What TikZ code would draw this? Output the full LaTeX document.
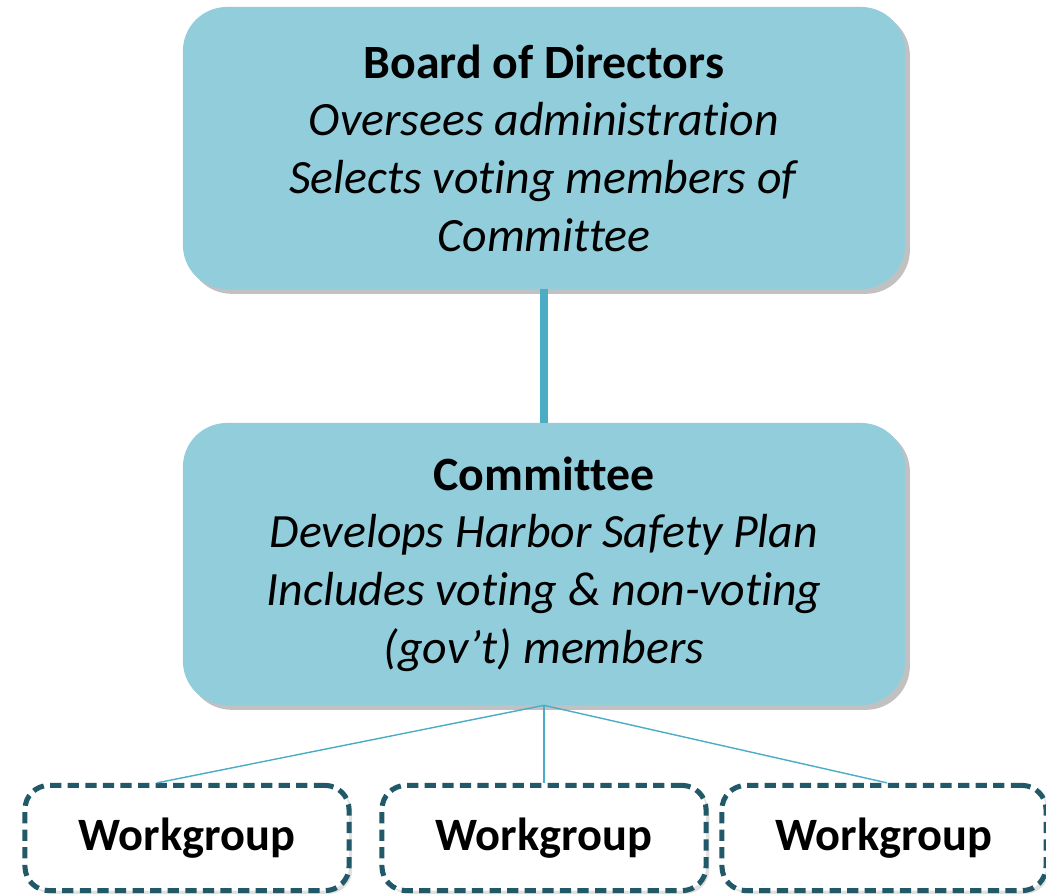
\documentclass[tikz,border=0pt]{standalone}
\usepackage{fontspec}
\setmainfont[RawFeature={-liga;-clig;-calt;-dlig}]{Carlito}
\usetikzlibrary{positioning}
\usetikzlibrary{shadows}
\definecolor{box colour}{HTML}{92CDDC}
\definecolor{link colour}{HTML}{4BACC6}
\definecolor{edge colour}{HTML}{215968}
\tikzset{
    % Shared looks for the chart
    soft shadow/.style={drop shadow={shadow xshift=1.2mm, shadow yshift=-1.2mm,
        opacity=0.35, fill=black!70}},
    body fill/.style={fill=box colour},
    % Lines between levels
    trunk/.style={color=link colour, line width=5.7pt},
    branch/.style={color=link colour, line width=1pt},
    every node/.style={align=center},
}

\begin{document}
\begin{tikzpicture}[
    level box/.style={rectangle, rounded corners=11mm, body fill, soft shadow,
        minimum width=18.05cm, minimum height=7.05cm,
        font=\fontsize{34}{41}\selectfont},
    group box/.style={rectangle, rounded corners=6mm, draw=edge colour,
        line width=3.6pt, dash pattern=on 8pt off 4.5pt, fill=white,
        drop shadow={shadow xshift=0.8mm, shadow yshift=-0.8mm,
            opacity=0.2, fill=black!60},
        minimum width=8.1cm, minimum height=2.63cm,
        font=\fontsize{33}{40}\selectfont\bfseries},
    x=0.025cm, y=-0.025cm,
]

\useasboundingbox (0,0) rectangle (1046,895);

\path
    (544,148) node (board) [level box]
        {\textbf{Board of Directors}\\\textit{Oversees administration}\\
         \textit{Selects voting members of}\\\textit{Committee}}
    (544,564) node (committee) [level box]
        {\textbf{Committee}\\\textit{Develops Harbor Safety Plan}\\
         \textit{Includes voting \& non-voting}\\\textit{(gov’t) members}};

\path
    (187,838) node (group a) [group box] {Workgroup}
    (544,838) node (group b) [group box] {Workgroup}
    (884,838) node (group c) [group box] {Workgroup};

\draw [trunk] (board) -- (committee);

% Thin links fan out from the committee
\draw [branch] (committee.south) -- (group a.north -| 157,0);
\draw [branch] (committee.south) -- (group b.north);
\draw [branch] (committee.south) -- (group c.north -| 887,0);

\end{tikzpicture}
\end{document}
